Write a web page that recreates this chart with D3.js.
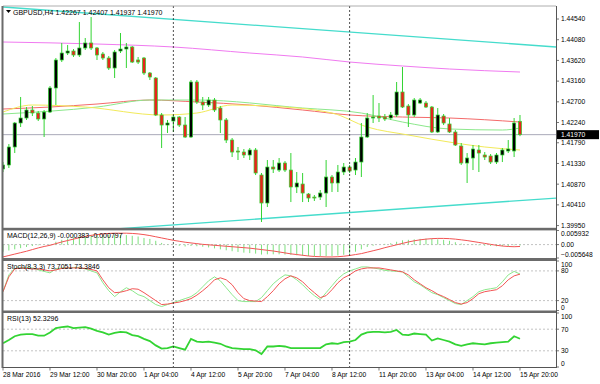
<!DOCTYPE html>
<html lang="en">
<head>
<meta charset="utf-8">
<title>GBPUSD H4</title>
<script src="https://cdn.jsdelivr.net/npm/d3@7"></script>
<style>
  body { margin: 0; background: #fff; }
  svg text { font-family: "Liberation Sans", Arial, sans-serif; font-size: 7px; fill: #000; }
  .axis text { font-size: 6.7px; }
</style>
</head>
<body>
<svg id="chart" width="600" height="384"></svg>
<script>
// ---- candles (bar 0 = 28 Mar 2016, H4) ----
const opens = [1.41207,1.41296,1.41696,1.42229,1.42340,1.42518,1.42451,1.42318,1.42473,1.43007,
  1.43629,1.43784,1.43829,1.43740,1.43896,1.44007,1.43896,1.43762,1.43673,1.43451,
  1.43829,1.43873,1.43918,1.43629,1.43673,1.43340,1.43229,1.42407,1.42184,1.42273,
  1.42362,1.42184,1.41918,1.43140,1.42696,1.42629,1.42740,1.42562,1.42296,1.41851,
  1.41607,1.41584,1.41518,1.41629,1.41073,1.40451,1.41251,1.41184,1.41340,1.41184,
  1.40807,1.40873,1.40651,1.40584,1.40584,1.40673,1.41029,1.40896,1.41140,1.41251,
  1.41184,1.41362,1.41918,1.42340,1.42384,1.42362,1.42340,1.42407,1.42918,1.42607,
  1.42407,1.42673,1.42673,1.42584,1.42029,1.42384,1.42207,1.42029,1.41718,1.41340,
  1.41451,1.41629,1.41518,1.41496,1.41362,1.41518,1.41607,1.41607,1.42267];
const highs = [1.41362,1.41762,1.42251,1.42807,1.42584,1.42607,1.42496,1.42518,1.43051,1.43673,
  1.44007,1.43962,1.43873,1.44473,1.44118,1.44584,1.43918,1.43807,1.43718,1.43851,
  1.44229,1.44007,1.43940,1.43696,1.43696,1.43362,1.43251,1.42451,1.42296,1.42407,
  1.42384,1.42362,1.43184,1.43184,1.42807,1.42807,1.42784,1.42607,1.42340,1.41896,
  1.41696,1.41651,1.41673,1.41673,1.41118,1.41407,1.41407,1.41451,1.41384,1.41562,
  1.41140,1.41118,1.40673,1.40629,1.40740,1.41407,1.41073,1.41296,1.41340,1.41296,
  1.41451,1.42229,1.42451,1.42851,1.42673,1.42429,1.42473,1.43140,1.43473,1.42651,
  1.42784,1.42784,1.42718,1.42607,1.42562,1.42429,1.42340,1.42073,1.41784,1.41562,
  1.41740,1.41740,1.41584,1.41540,1.41562,1.41673,1.41851,1.42340,1.42407];
const lows = [1.41140,1.41229,1.41562,1.42140,1.42296,1.42384,1.42273,1.41918,1.42451,1.42629,
  1.43584,1.43740,1.43696,1.43696,1.43851,1.43851,1.43629,1.43629,1.43407,1.43229,
  1.43784,1.43451,1.43562,1.43540,1.43296,1.43184,1.42384,1.41673,1.42007,1.42029,
  1.42140,1.41896,1.41896,1.42651,1.42518,1.42584,1.42473,1.42007,1.41784,1.41473,
  1.41407,1.41451,1.41407,1.41073,1.40029,1.40362,1.41118,1.41140,1.41140,1.40473,
  1.40673,1.40473,1.40473,1.40496,1.40518,1.40362,1.40696,1.40696,1.41073,1.41118,
  1.41073,1.41029,1.41896,1.42229,1.42251,1.42273,1.42296,1.42362,1.42562,1.42140,
  1.42362,1.42651,1.42562,1.42007,1.42007,1.42184,1.42007,1.41718,1.41296,1.40896,
  1.41184,1.41140,1.41407,1.41318,1.41318,1.41362,1.41562,1.41473,1.41937];
const closes = [1.41296,1.41696,1.42229,1.42340,1.42518,1.42451,1.42318,1.42473,1.43007,1.43629,
  1.43784,1.43829,1.43740,1.43896,1.44007,1.43896,1.43740,1.43673,1.43451,1.43807,
  1.43873,1.43918,1.43584,1.43584,1.43340,1.43251,1.42407,1.42184,1.42229,1.42362,
  1.42184,1.41918,1.43140,1.42696,1.42629,1.42740,1.42518,1.42296,1.41851,1.41584,
  1.41584,1.41518,1.41629,1.41118,1.40451,1.41251,1.41207,1.41340,1.41184,1.40807,
  1.40896,1.40673,1.40562,1.40562,1.40673,1.41029,1.40896,1.41140,1.41251,1.41162,
  1.41362,1.41918,1.42340,1.42362,1.42340,1.42318,1.42407,1.42918,1.42584,1.42407,
  1.42740,1.42740,1.42584,1.42029,1.42407,1.42229,1.42029,1.41740,1.41340,1.41451,
  1.41651,1.41562,1.41473,1.41362,1.41518,1.41629,1.41651,1.42229,1.41970];

// moving averages as [bar, price] vertices
const maViolet = [[0,1.44029],[16,1.43984],[29,1.43918],[42,1.43784],[51,1.43696],[59,1.43584],[68,1.43496],[76,1.43429],[88,1.43362]];
const maRed = [[0,1.42540],[8,1.42584],[16,1.42651],[25,1.42740],[33,1.42696],[42,1.42629],[51,1.42518],[59,1.42407],[68,1.42362],[76,1.42340],[88,1.42251]];
const maGreen = [[0,1.42429],[16,1.42584],[25,1.42740],[33,1.42740],[51,1.42562],[61,1.42451],[68,1.42251],[76,1.42096],[85,1.42073],[88,1.42118]];
const maYellow = [[0,1.42473],[5,1.42629],[14,1.42584],[27,1.42407],[33,1.42451],[39,1.42629],[45,1.42607],[56,1.42451],[62,1.42140],[69,1.41962],[77,1.41784],[82,1.41696],[88,1.41629]];

// channel trendlines, two anchors each
const upperChannel = [[0, 1.44807], [94.13, 1.43918]];
const lowerChannel = [[10, 1.39790], [94.13, 1.40562]];

const lastPrice = 1.41970;
const priceTicks = [1.44540,1.44080,1.43620,1.43160,1.42700,1.42240,1.41790,1.41330,1.40870,1.40410,1.39950];

// MACD(12,26,9): histogram + signal
const macdMain = [-0.0030,-0.0025,-0.0020,-0.0015,-0.0010,-0.0006,-0.0003,-0.0001,0.0002,0.0012,
  0.0020,0.0026,0.0030,0.0034,0.0037,0.0039,0.0040,0.0041,0.0041,0.0041,
  0.0041,0.0040,0.0037,0.0034,0.0028,0.0024,0.0016,0.0007,0.0002,-0.0002,
  -0.0005,-0.0008,-0.0006,-0.0007,-0.0009,-0.0012,-0.0016,-0.0020,-0.0024,-0.0028,
  -0.0031,-0.0034,-0.0036,-0.0038,-0.0042,-0.0041,-0.0041,-0.0041,-0.0042,-0.0043,
  -0.0045,-0.0047,-0.0048,-0.0049,-0.0049,-0.0049,-0.0048,-0.0046,-0.0043,-0.0038,
  -0.0030,-0.0020,-0.0010,-0.0005,0.0000,0.0003,0.0006,0.0012,0.0018,0.0020,
  0.0022,0.0024,0.0025,0.0024,0.0022,0.0020,0.0016,0.0010,0.0004,0.0001,
  -0.0002,-0.0003,-0.0005,-0.0006,-0.0007,-0.0007,-0.0007,-0.0003,-0.000383];
const macdSignal = [-0.0052,-0.0046,-0.0040,-0.0034,-0.0028,-0.0021,-0.0014,-0.0008,-0.0003,0.0004,
  0.0011,0.0017,0.0023,0.0029,0.0034,0.0039,0.0042,0.0045,0.0047,0.0048,
  0.0048,0.0048,0.0047,0.0045,0.0042,0.0038,0.0033,0.0028,0.0023,0.0018,
  0.0014,0.0010,0.0007,0.0004,0.0001,-0.0001,-0.0003,-0.0005,-0.0007,-0.0009,
  -0.0011,-0.0013,-0.0015,-0.0018,-0.0021,-0.0024,-0.0027,-0.0031,-0.0035,-0.0039,
  -0.0042,-0.0045,-0.0048,-0.0050,-0.0051,-0.0052,-0.0052,-0.0051,-0.0049,-0.0046,
  -0.0042,-0.0038,-0.0032,-0.0026,-0.0020,-0.0013,-0.0007,-0.0001,0.0005,0.0011,
  0.0016,0.0020,0.0023,0.0025,0.0026,0.0026,0.0025,0.0023,0.0020,0.0017,
  0.0013,0.0009,0.0005,0.0001,-0.0003,-0.0006,-0.0008,-0.0009,-0.000797];

// Stochastic(8,3,3)
const stochK = [38,72,85,86,86,86,82,79,76,84,86,86,87,87,84,80,76,56,40,28,
  38,46,40,32,28,20,12,8,12,16,20,24,28,36,48,60,68,60,46,32,
  20,18,18,18,26,40,54,64,72,70,62,52,40,30,22,36,50,64,74,80,
  84,88,88,86,84,81,80,79,78,68,58,52,44,36,32,26,20,14,12,20,
  28,38,42,44,46,58,72,79,73.7];
const stochD = [38,68,84,86,85,84,84,82,80,82,85,86,86,86,85,83,80,62,46,36,
  37,40,44,43,36,28,20,12,13,15,17,20,24,31,40,50,62,66,62,52,
  36,24,20,19,18,28,40,54,64,70,66,58,46,36,26,30,42,56,66,72,
  80,84,86,86,86,84,82,80,78,72,62,54,46,40,33,28,22,16,13,16,
  24,34,38,40,42,50,62,70,73.4];

// RSI(13)
const rsi = [44,50,57,60,61,61,58,58,64,72,74,75,72,73,74,71,67,64,60,63,
  65,64,59,57,52,48,40,34,35,38,35,32,52,47,46,47,45,43,38,35,
  34,33,33,31,24,38,38,39,38,35,35,35,35,35,35,42,44,43,46,47,
  50,60,64,65,65,64,65,68.5,60,59,62,61,60,49,53,50,47,42,39,42,
  44,43,42,44,45,46,47,57,52.3];

// x axis labels every 8 bars, weekly separators
const timeLabels = ['28 Mar 2016','29 Mar 12:00','30 Mar 20:00','1 Apr 04:00','4 Apr 12:00','5 Apr 20:00',
  '7 Apr 04:00','8 Apr 12:00','11 Apr 20:00','13 Apr 04:00','14 Apr 12:00','15 Apr 20:00'];
const timeLabelBars = [0,8,16,24,32,40,48,56,64,72,80,88];
const weekStarts = [29, 59];

const svg = d3.select('#chart');
const left = 3, right = 556;
const bars = d3.range(opens.length);

// panel boxes (top, bottom)
const P = { main: [6, 228], macd: [230.5, 258], stoch: [261, 310.5], rsi: [313, 367] };

const x = d3.scaleLinear().domain([0, 94.13]).range([left, right]);
const yPrice = d3.scaleLinear().domain([1.39896, 1.44829]).range([228, 6]);
const yMacd = d3.scaleLinear().domain([-0.005648, 0.005932]).range([258, 230.5]);
const yStoch = d3.scaleLinear().domain([0, 100]).range([310.5, 261]);
const yRsi = d3.scaleLinear().domain([0, 100]).range([367, 313]);

const defs = svg.append('defs');
Object.entries(P).forEach(([k, [t, b]]) => {
  defs.append('clipPath').attr('id', 'clip-' + k)
    .append('rect').attr('x', left).attr('y', t).attr('width', right - left).attr('height', b - t);
});

const green = '#33d433';

// dashed level lines
function level(key, scale, v) {
  svg.append('line')
    .attr('x1', left).attr('x2', right)
    .attr('y1', scale(v)).attr('y2', scale(v))
    .attr('stroke', '#b4b4b4').attr('stroke-width', 0.8).attr('stroke-dasharray', '2,2');
}
level('macd', yMacd, 0);
[80, 20].forEach(v => level('stoch', yStoch, v));
[70, 30].forEach(v => level('rsi', yRsi, v));

// ---- main panel ----
const gMain = svg.append('g').attr('clip-path', 'url(#clip-main)');

// current price line
gMain.append('line')
  .attr('x1', left).attr('x2', right)
  .attr('y1', yPrice(lastPrice)).attr('y2', yPrice(lastPrice))
  .attr('stroke', '#a9a9b8').attr('stroke-width', 1);

const lineBar = d3.line().x(d => x(d[0])).y(d => yPrice(d[1])).curve(d3.curveMonotoneX);

gMain.append('path').datum(upperChannel).attr('d', lineBar).attr('fill', 'none')
  .attr('stroke', '#45dccc').attr('stroke-width', 1.3);
gMain.append('path').datum(lowerChannel).attr('d', lineBar).attr('fill', 'none')
  .attr('stroke', '#45dccc').attr('stroke-width', 1.3);

[[maViolet, '#f07af0'], [maRed, '#f46a6a'], [maGreen, '#8ce88c'], [maYellow, '#f2ea5a']].forEach(([pts, col]) => {
  gMain.append('path').datum(pts).attr('d', lineBar).attr('fill', 'none')
    .attr('stroke', col).attr('stroke-width', 1);
});

// wicks then bodies
gMain.selectAll('line.wick').data(bars).join('line')
  .attr('class', 'wick')
  .attr('x1', i => x(i)).attr('x2', i => x(i))
  .attr('y1', i => yPrice(highs[i])).attr('y2', i => yPrice(lows[i]))
  .attr('stroke', green).attr('stroke-width', 1);

gMain.selectAll('rect.body').data(bars).join('rect')
  .attr('class', 'body')
  .attr('x', i => x(i) - 1.6)
  .attr('width', 3.2)
  .attr('y', i => yPrice(Math.max(opens[i], closes[i])))
  .attr('height', i => Math.max(0.8, Math.abs(yPrice(opens[i]) - yPrice(closes[i]))))
  .attr('fill', i => closes[i] > opens[i] ? '#000' : '#e8241c')
  .attr('stroke', green).attr('stroke-width', 0.7);

// ---- MACD ----
const gMacd = svg.append('g').attr('clip-path', 'url(#clip-macd)');
gMacd.selectAll('line').data(bars).join('line')
  .attr('x1', i => x(i)).attr('x2', i => x(i))
  .attr('y1', yMacd(0)).attr('y2', i => yMacd(macdMain[i]))
  .attr('stroke', '#7ee07e').attr('stroke-width', 1);
gMacd.append('path').datum(macdSignal)
  .attr('d', d3.line().x((d, i) => x(i)).y(d => yMacd(d)))
  .attr('fill', 'none').attr('stroke', '#f25454').attr('stroke-width', 1);

// ---- Stochastic ----
const gSto = svg.append('g').attr('clip-path', 'url(#clip-stoch)');
const stoLine = d3.line().x((d, i) => x(i)).y(d => yStoch(d));
gSto.append('path').datum(stochK).attr('d', stoLine).attr('fill', 'none')
  .attr('stroke', '#8ce88c').attr('stroke-width', 1);
gSto.append('path').datum(stochD).attr('d', stoLine).attr('fill', 'none')
  .attr('stroke', '#f25454').attr('stroke-width', 1);

// ---- RSI ----
const gRsi = svg.append('g').attr('clip-path', 'url(#clip-rsi)');
gRsi.append('path').datum(rsi)
  .attr('d', d3.line().x((d, i) => x(i)).y(d => yRsi(d)))
  .attr('fill', 'none').attr('stroke', '#33d433').attr('stroke-width', 1.8);

// weekly separators across all panels
svg.selectAll('line.sep').data(weekStarts).join('line')
  .attr('class', 'sep')
  .attr('x1', i => x(i)).attr('x2', i => x(i))
  .attr('y1', P.main[0]).attr('y2', P.rsi[1])
  .attr('stroke', '#222').attr('stroke-width', 0.8).attr('stroke-dasharray', '2,2');

// ---- frame ----
svg.append('line').attr('x1', left).attr('x2', right).attr('y1', 6).attr('y2', 6)
  .attr('stroke', '#9a9a9a').attr('stroke-width', 0.8);
[[227.8, 230.4], [258, 261], [310.5, 313]].forEach(([a, b]) => {
  svg.append('rect').attr('x', left - 1).attr('y', a).attr('width', right - left + 1).attr('height', b - a)
    .attr('fill', '#6b6b6b');
});
svg.append('rect').attr('x', 1.5).attr('y', 6).attr('width', 2).attr('height', 362).attr('fill', '#6b6b6b');
svg.append('line').attr('x1', right + 0.5).attr('x2', right + 0.5).attr('y1', 6).attr('y2', 368)
  .attr('stroke', '#555').attr('stroke-width', 1);
svg.append('line').attr('x1', left).attr('x2', right + 1).attr('y1', 367.5).attr('y2', 367.5)
  .attr('stroke', '#555').attr('stroke-width', 1);

// right axis labels; end labels pushed inside the panel like the terminal does
function rightLabels(values, scale, fmt, top, bottom) {
  const g = svg.append('g').attr('class', 'axis');
  values.forEach(v => {
    const y = scale(v);
    g.append('line').attr('x1', right).attr('x2', right + 3).attr('y1', y).attr('y2', y)
      .attr('stroke', '#555').attr('stroke-width', 0.8);
    g.append('text').attr('x', right + 5)
      .attr('y', Math.min(Math.max(y, top + 3.5), bottom - 3))
      .attr('dy', '0.35em').text(fmt(v));
  });
}
rightLabels(priceTicks, yPrice, d3.format('.5f'), P.main[0], 240);
rightLabels([0.005932, 0, -0.005648], yMacd, v => v === 0 ? '0.00' : d3.format('.6f')(v), P.macd[0], P.macd[1]);
rightLabels([100, 80, 20, 0], yStoch, d3.format('d'), P.stoch[0], P.stoch[1]);
rightLabels([100, 70, 30, 0], yRsi, d3.format('d'), P.rsi[0], P.rsi[1]);

// current price tag
svg.append('rect').attr('x', right + 1).attr('y', yPrice(lastPrice) - 4.5).attr('width', 42).attr('height', 9).attr('fill', '#000');
svg.append('text').attr('class', 'axis').attr('x', right + 5).attr('y', yPrice(lastPrice)).attr('dy', '0.35em')
  .style('fill', '#fff').style('font-size', '6.7px').text(d3.format('.5f')(lastPrice));

// bottom time axis
const gx = svg.append('g').attr('class', 'axis');
timeLabelBars.forEach((b, k) => {
  gx.append('line').attr('x1', x(b)).attr('x2', x(b)).attr('y1', 367.5).attr('y2', 370.5)
    .attr('stroke', '#555').attr('stroke-width', 0.8);
  gx.append('text').attr('x', x(b)).attr('y', 377).text(timeLabels[k]);
});

// panel captions
svg.append('path').attr('d', 'M6,10 L11,10 L8.5,13 Z').attr('fill', '#000');
svg.append('text').attr('x', 13).attr('y', 14.5).text('GBPUSD,H4  1.42267 1.42407 1.41937 1.41970');
svg.append('text').attr('x', 7).attr('y', 238).text('MACD(12,26,9) -0.000383 -0.000797');
svg.append('text').attr('x', 7).attr('y', 269).text('Stoch(8,3,3) 73.7051 73.3846');
svg.append('text').attr('x', 7).attr('y', 321).text('RSI(13) 52.3296');
</script>
</body>
</html>
